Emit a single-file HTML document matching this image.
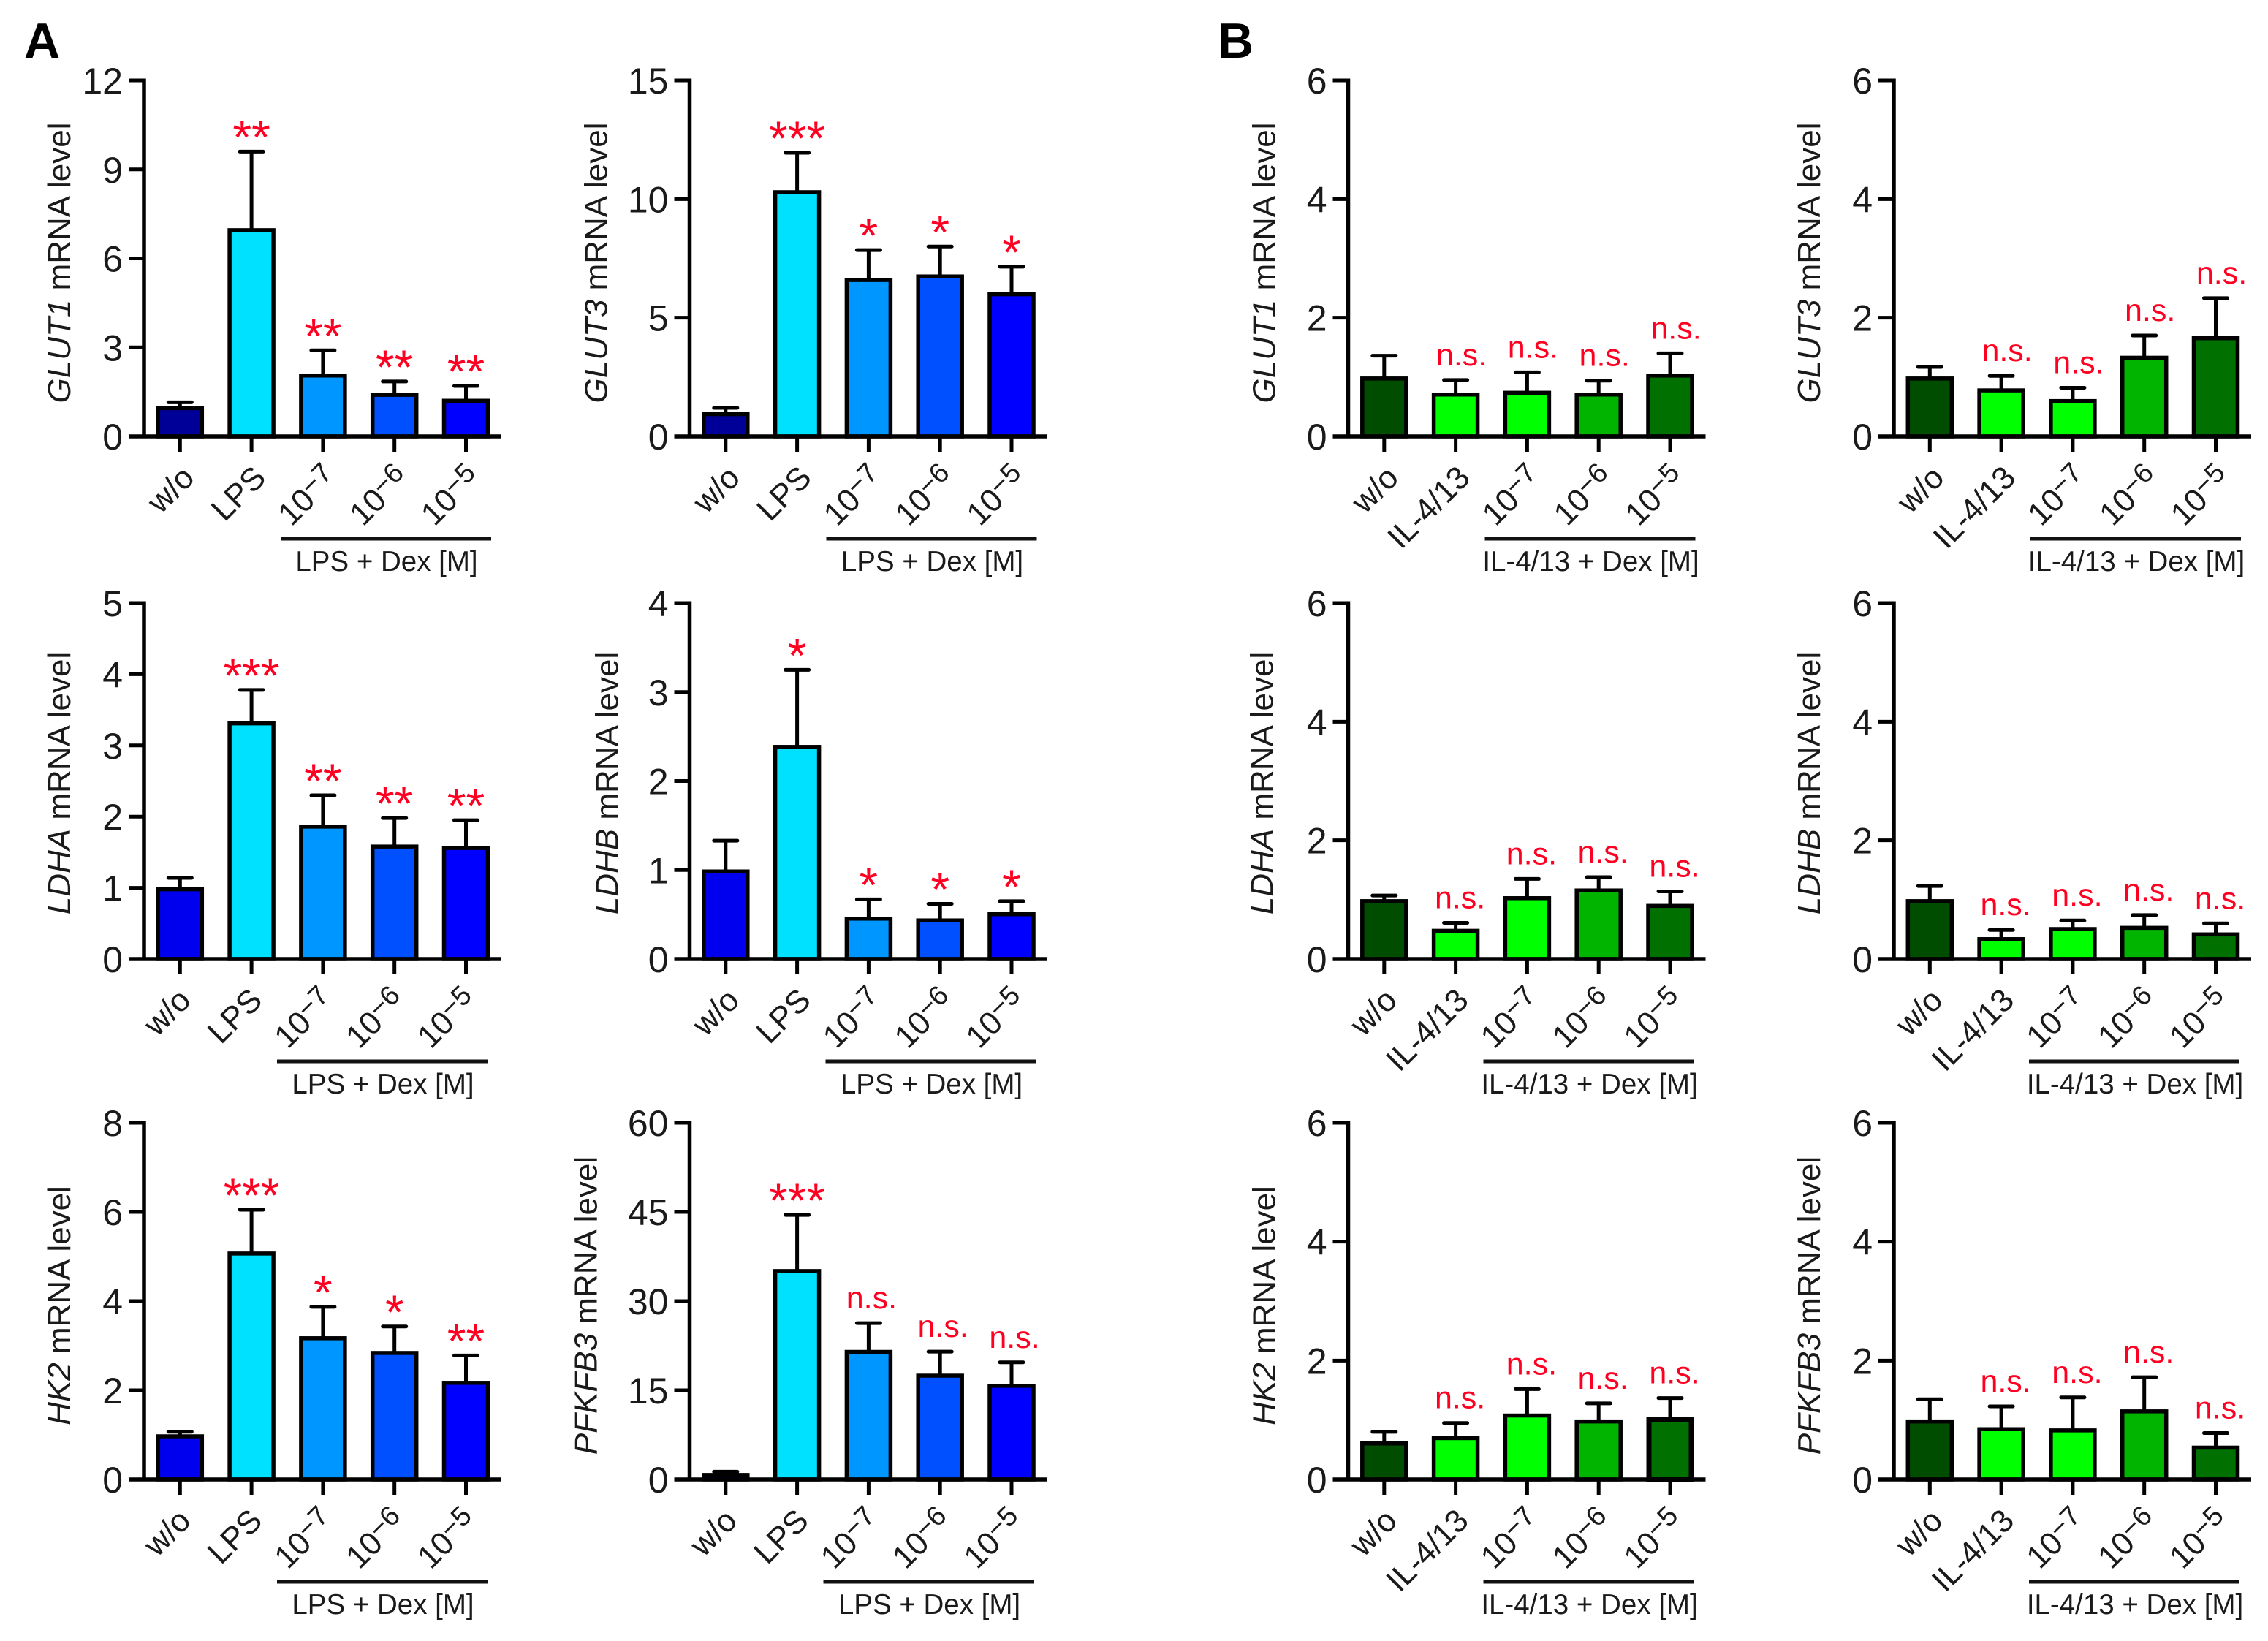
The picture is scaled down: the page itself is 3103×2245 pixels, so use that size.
<!DOCTYPE html>
<html lang="en">
<head>
<meta charset="utf-8">
<title>GLUT and glycolytic gene mRNA levels</title>
<style>
html,body{margin:0;padding:0;background:#fff;}
svg{display:block;}
text{font-family:"Liberation Sans",Arial,sans-serif;fill:#1a1a1a;}
</style>
</head>
<body>
<svg id="figure" xmlns="http://www.w3.org/2000/svg" width="3103" height="2245" viewBox="0 0 3103 2245">
  <rect x="0" y="0" width="3103" height="2245" fill="#ffffff"/>
  <text x="33" y="79" font-size="68" font-weight="bold" style="fill:#000">A</text>
  <text x="1666" y="79" font-size="68" font-weight="bold" style="fill:#000">B</text>
</svg>
<script>
// ---- categories ----
const lpsCategories = ['w/o', 'LPS', '10|−7', '10|−6', '10|−5'];
const ilCategories = ['w/o', 'IL-4/13', '10|−7', '10|−6', '10|−5'];
const lpsGroupLabel = 'LPS + Dex [M]';
const ilGroupLabel = 'IL-4/13 + Dex [M]';
const geneNames = ['GLUT1', 'GLUT3', 'LDHA', 'LDHB', 'HK2', 'PFKFB3'];

// ---- y-axis tick labels ----
const ticksLpsGlut1 = [0, 3, 6, 9, 12];
const ticksLpsGlut3 = [0, 5, 10, 15];
const ticksLpsLdha = [0, 1, 2, 3, 4, 5];
const ticksLpsLdhb = [0, 1, 2, 3, 4];
const ticksLpsHk2 = [0, 2, 4, 6, 8];
const ticksLpsPfkfb3 = [0, 15, 30, 45, 60];
const ticksIl = [0, 2, 4, 6];

// ---- series: means and upper error limits ----
const meansLpsGlut1 = [1, 7, 2.1, 1.45, 1.25];
const upperLpsGlut1 = [1.15, 9.6, 2.9, 1.85, 1.7];
const meansLpsGlut3 = [1, 10.35, 6.65, 6.8, 6.05];
const upperLpsGlut3 = [1.2, 11.95, 7.85, 8.0, 7.15];
const meansLpsLdha = [1, 3.33, 1.88, 1.6, 1.58];
const upperLpsLdha = [1.14, 3.78, 2.3, 1.98, 1.95];
const meansLpsLdhb = [1, 2.4, 0.47, 0.45, 0.52];
const upperLpsLdhb = [1.33, 3.25, 0.67, 0.62, 0.65];
const meansLpsHk2 = [1, 5.1, 3.2, 2.87, 2.2];
const upperLpsHk2 = [1.07, 6.05, 3.87, 3.43, 2.78];
const meansLpsPfkfb3 = [1, 35.3, 21.7, 17.7, 16];
const upperLpsPfkfb3 = [1.3, 44.5, 26.3, 21.5, 19.7];

const meansIlGlut1 = [1, 0.73, 0.76, 0.73, 1.05];
const upperIlGlut1 = [1.36, 0.95, 1.08, 0.94, 1.4];
const meansIlGlut3 = [1, 0.8, 0.62, 1.35, 1.68];
const upperIlGlut3 = [1.17, 1.02, 0.82, 1.7, 2.33];
const meansIlLdha = [1, 0.5, 1.05, 1.18, 0.92];
const upperIlLdha = [1.07, 0.61, 1.35, 1.38, 1.14];
const meansIlLdhb = [1, 0.36, 0.53, 0.55, 0.44];
const upperIlLdhb = [1.23, 0.49, 0.65, 0.74, 0.6];
const meansIlHk2 = [0.63, 0.72, 1.1, 1.0, 1.05];
const upperIlHk2 = [0.8, 0.95, 1.52, 1.28, 1.37];
const meansIlPfkfb3 = [1, 0.87, 0.85, 1.17, 0.56];
const upperIlPfkfb3 = [1.35, 1.23, 1.38, 1.72, 0.78];

// ---- significance marks ----
const sigLpsGlut1 = ['', '**', '**', '**', '**'];
const sigLpsGlut3 = ['', '***', '*', '*', '*'];
const sigLpsLdha = ['', '***', '**', '**', '**'];
const sigLpsLdhb = ['', '*', '*', '*', '*'];
const sigLpsHk2 = ['', '***', '*', '*', '**'];
const sigLpsPfkfb3 = ['', '***', 'n.s.', 'n.s.', 'n.s.'];
const sigIl = ['', 'n.s.', 'n.s.', 'n.s.', 'n.s.'];

// ---- colours ----
const navy = '#000099';
const blueFirst = '#0000ee';
const lpsFills = ['#00e1ff', '#0096ff', '#0050ff', '#0000ff'];
const ilFills = ['#004d00', '#00ff00', '#00ff00', '#00b400', '#007000'];

// ---- page layout ----
const NS = 'http://www.w3.org/2000/svg';
const figure = document.getElementById('figure');
const columnAxisX = [197, 943.5, 1844.5, 2591];
const rowTopY = [110, 825, 1536];
const rowBaseY = [597, 1312, 2024];
const rowTitleDy = [6, 3, 6];
const SPACING = 97.8, FIRST = 49.3, BAR_W = 60, STROKE = 5.5;

const panels = [
  {id:'lps-glut1', col:0, row:0, gene:0, ticks:ticksLpsGlut1, means:meansLpsGlut1, upper:upperLpsGlut1, sig:sigLpsGlut1, first:navy, il:false, titleDx:-101, shift:0},
  {id:'lps-glut3', col:1, row:0, gene:1, ticks:ticksLpsGlut3, means:meansLpsGlut3, upper:upperLpsGlut3, sig:sigLpsGlut3, first:navy, il:false, titleDx:-113, shift:0},
  {id:'lps-ldha', col:0, row:1, gene:2, ticks:ticksLpsLdha, means:meansLpsLdha, upper:upperLpsLdha, sig:sigLpsLdha, first:blueFirst, il:false, titleDx:-101, shift:-5},
  {id:'lps-ldhb', col:1, row:1, gene:3, ticks:ticksLpsLdhb, means:meansLpsLdhb, upper:upperLpsLdhb, sig:sigLpsLdhb, first:blueFirst, il:false, titleDx:-98, shift:-1},
  {id:'lps-hk2', col:0, row:2, gene:4, ticks:ticksLpsHk2, means:meansLpsHk2, upper:upperLpsHk2, sig:sigLpsHk2, first:blueFirst, il:false, titleDx:-101, shift:-5},
  {id:'lps-pfkfb3', col:1, row:2, gene:5, ticks:ticksLpsPfkfb3, means:meansLpsPfkfb3, upper:upperLpsPfkfb3, sig:sigLpsPfkfb3, first:navy, il:false, titleDx:-127, shift:-4},
  {id:'il-glut1', col:2, row:0, gene:0, ticks:ticksIl, means:meansIlGlut1, upper:upperIlGlut1, sig:sigIl, il:true, titleDx:-100, shift:0},
  {id:'il-glut3', col:3, row:0, gene:1, ticks:ticksIl, means:meansIlGlut3, upper:upperIlGlut3, sig:sigIl, il:true, titleDx:-101, shift:0},
  {id:'il-ldha', col:2, row:1, gene:2, ticks:ticksIl, means:meansIlLdha, upper:upperIlLdha, sig:sigIl, il:true, titleDx:-103, shift:-2},
  {id:'il-ldhb', col:3, row:1, gene:3, ticks:ticksIl, means:meansIlLdhb, upper:upperIlLdhb, sig:sigIl, il:true, titleDx:-101, shift:-2},
  {id:'il-hk2', col:2, row:2, gene:4, ticks:ticksIl, means:meansIlHk2, upper:upperIlHk2, sig:sigIl, il:true, titleDx:-100, shift:-2, thickLast:true},
  {id:'il-pfkfb3', col:3, row:2, gene:5, ticks:ticksIl, means:meansIlPfkfb3, upper:upperIlPfkfb3, sig:sigIl, il:true, titleDx:-101, shift:-2}
];

function make(tag, attrs, parent) {
  const node = document.createElementNS(NS, tag);
  for (const key in attrs) node.setAttribute(key, attrs[key]);
  parent.appendChild(node);
  return node;
}

function drawPanel(p) {
  const axisX = columnAxisX[p.col];
  const topY = rowTopY[p.row];
  const baseY = rowBaseY[p.row];
  const yMax = p.ticks[p.ticks.length - 1];
  const y = v => baseY - (v / yMax) * (baseY - topY);
  const x = i => axisX + FIRST + i * SPACING;
  const cats = p.il ? ilCategories : lpsCategories;

  const g = make('g', {}, figure);
  
  

  p.means.forEach((m, i) => {
    const stem = make('line', {x1:x(i), x2:x(i), y1:y(m), y2:y(p.upper[i]), stroke:'#000', 'stroke-width':5}, g);
    
    

    const cap = make('line', {x1:x(i) - 16, x2:x(i) + 16, y1:y(p.upper[i]), y2:y(p.upper[i]), stroke:'#000', 'stroke-width':5, 'stroke-linecap':'round'}, g);
    
    

    const fill = p.il ? ilFills[i] : (i === 0 ? p.first : lpsFills[i - 1]);
    const thick = p.thickLast && i === 4;
    const sw = thick ? 7 : STROKE;
    const inset = thick ? 1 : 0;
    const barTop = y(m) + 2 + inset;
    const bar = make('rect', {x:x(i) - BAR_W / 2 + inset, y:barTop, width:BAR_W - 2 * inset, height:baseY - barTop, fill:fill, stroke:'#000', 'stroke-width':sw}, g);
    
    

    const sig = p.sig[i];
    if (sig) {
      const isStar = sig.indexOf('*') >= 0;
      const mark = make('text', {
        x: x(i) + (isStar ? 0 : 8 + p.shift),
        y: y(p.upper[i]) + (isStar ? 3 : -20),
        'font-size': isStar ? 66 : 43,
        'text-anchor': 'middle',
        style: 'fill:#ff0022'
      }, g);
      mark.textContent = sig;
      
      
    }

    const tickMark = make('line', {x1:x(i), x2:x(i), y1:baseY, y2:baseY + 21, stroke:'#000', 'stroke-width':5}, g);
    
    

    const parts = cats[i].split('|');
    const ax = x(i) + 22 + p.shift;
    const ay = baseY + 59;
    const label = make('text', {x:ax, y:ay, 'font-size':44, 'text-anchor':'end', transform:'rotate(-45 ' + ax + ' ' + ay + ')'}, g);
    
    
    const baseSpan = make('tspan', {}, label);
    baseSpan.textContent = parts[0];
    
    
    if (parts[1]) {
      const expSpan = make('tspan', {'font-size':38, dy:-10}, label);
      expSpan.textContent = parts[1];
      
      
    }
  });

  const yAxis = make('line', {x1:axisX, x2:axisX, y1:topY - 2.5, y2:baseY + 2.5, stroke:'#000', 'stroke-width':STROKE}, g);
  
  

  const xAxis = make('line', {x1:axisX - 21, x2:axisX + 489, y1:baseY, y2:baseY, stroke:'#000', 'stroke-width':STROKE}, g);
  
  

  p.ticks.forEach(t => {
    const tick = make('line', {x1:axisX - 21, x2:axisX, y1:y(t), y2:y(t), stroke:'#000', 'stroke-width':5}, g);
    
    

    const tickLabel = make('text', {x:axisX - 29, y:y(t) + 18, 'font-size':50, 'text-anchor':'end'}, g);
    tickLabel.textContent = t;
    
    
  });

  const tx = axisX + p.titleDx;
  const ty = (topY + baseY) / 2 + rowTitleDy[p.row];
  const title = make('text', {x:tx, y:ty, 'font-size':44, 'text-anchor':'middle', transform:'rotate(-90 ' + tx + ' ' + ty + ')'}, g);
  
  
  const gene = make('tspan', {'font-style':'italic'}, title);
  gene.textContent = geneNames[p.gene];
  
  
  const rest = make('tspan', {}, title);
  rest.textContent = ' mRNA level';
  
  

  const rule = make('line', {x1:axisX + 187 + p.shift, x2:axisX + 475 + p.shift, y1:baseY + 140, y2:baseY + 140, stroke:'#111', 'stroke-width':5}, g);
  
  

  const groupText = make('text', {x:axisX + 332 + p.shift, y:baseY + 184, 'font-size':38.5, 'text-anchor':'middle'}, g);
  groupText.textContent = p.il ? ilGroupLabel : lpsGroupLabel;
  
  
}

panels.forEach(drawPanel);
</script>
</body>
</html>
